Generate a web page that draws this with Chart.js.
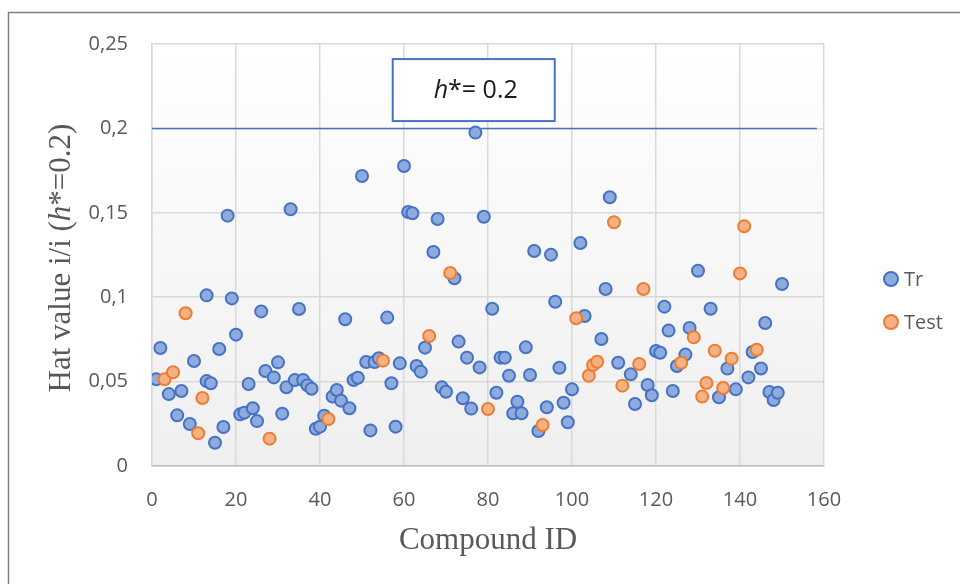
<!DOCTYPE html>
<html>
<head>
<meta charset="utf-8">
<script src="https://cdn.jsdelivr.net/npm/chart.js@4"></script>
<style>
  html, body { margin: 0; padding: 0; background: #fff; }
  #wrap { width: 960px; height: 584px; }
</style>
</head>
<body>
<div id="wrap"><canvas id="chart" width="960" height="584"></canvas></div>
<script>
// ── Data ───────────────────────────────────────────────
const trIds = [1, 2, 4, 6, 7, 9, 10, 13, 13, 14, 15, 16, 17, 18, 19, 20, 21, 22, 23, 24, 25, 26, 27, 29, 30,
  31, 32, 33, 34, 35, 36, 37, 38, 39, 40, 41, 43, 44, 45, 46, 47, 48, 49, 50, 51, 52, 53, 54, 56, 57, 58, 59, 60,
  61, 62, 63, 64, 65, 67, 68, 69, 70, 72, 73, 74, 75, 76, 77, 78, 79, 81, 82, 83, 84, 85, 86, 87, 88, 89, 90,
  91, 92, 94, 95, 96, 97, 98, 99, 100, 102, 103, 107, 108, 109, 111, 114, 115, 118, 119, 120, 121, 122, 123,
  124, 125, 127, 128, 130, 133, 135, 137, 139, 142, 143, 145, 146, 147, 148, 149, 150];
const trHat = [0.0514, 0.0699, 0.0426, 0.0300, 0.0444, 0.0249, 0.0622, 0.1011, 0.0503, 0.0490, 0.0138, 0.0693,
  0.0231, 0.1483, 0.0993, 0.0778, 0.0306, 0.0316, 0.0486, 0.0342, 0.0266, 0.0916, 0.0563, 0.0525, 0.0614,
  0.0310, 0.0466, 0.1521, 0.0509, 0.0930, 0.0509, 0.0478, 0.0458, 0.0221, 0.0233, 0.0298, 0.0411, 0.0450,
  0.0387, 0.0869, 0.0342, 0.0509, 0.0523, 0.1718, 0.0616, 0.0211, 0.0616, 0.0638, 0.0879, 0.0490, 0.0233,
  0.0608, 0.1777, 0.1505, 0.1497, 0.0592, 0.0559, 0.0701, 0.1268, 0.1463, 0.0466, 0.0440, 0.1112, 0.0737,
  0.0401, 0.0642, 0.0340, 0.1975, 0.0584, 0.1477, 0.0932, 0.0434, 0.0642, 0.0642, 0.0535, 0.0312, 0.0381,
  0.0312, 0.0703, 0.0539, 0.1274, 0.0207, 0.0348, 0.1252, 0.0973, 0.0582, 0.0375, 0.0259, 0.0454, 0.1321,
  0.0889, 0.0752, 0.1049, 0.1592, 0.0612, 0.0543, 0.0367, 0.0480, 0.0419, 0.0681, 0.0671, 0.0944, 0.0802,
  0.0444, 0.0592, 0.0660, 0.0818, 0.1157, 0.0932, 0.0407, 0.0577, 0.0454, 0.0525, 0.0675, 0.0578, 0.0847,
  0.0438, 0.0391, 0.0434, 0.1078];

const testIds = [3, 5, 8, 11, 12, 28, 42, 55, 66, 71, 80, 93, 101, 104, 105, 106, 110, 112, 116, 117, 126,
  129, 131, 132, 134, 136, 138, 140, 141, 144];
const testHat = [0.0514, 0.0555, 0.0905, 0.0194, 0.0403, 0.0162, 0.0278, 0.0624, 0.0770, 0.1143, 0.0338,
  0.0243, 0.0875, 0.0535, 0.0598, 0.0618, 0.1444, 0.0476, 0.0604, 0.1049, 0.0612, 0.0762, 0.0411, 0.0492,
  0.0683, 0.0462, 0.0636, 0.1141, 0.1420, 0.0689];

const hStar = 0.2;
const hStarLineX = [0, 158.3];
const yTickLabels = ['0', '0,05', '0,1', '0,15', '0,2', '0,25'];
const xTickLabels = ['0', '20', '40', '60', '80', '100', '120', '140', '160'];

// ── Styles ─────────────────────────────────────────────
const BLUE = '#4472C4', BLUE_FILL = '#8FAADC';
const ORANGE = '#ED7D31', ORANGE_FILL = '#F4B183';
const TXT = '#595959';
const SANS = '"Open Sans", "Liberation Sans", sans-serif';
const SERIF = '"Liberation Serif", "DejaVu Serif", serif';

const toPoints = (xs, ys) => xs.map((x, i) => ({ x, y: ys[i] }));

// draws a run of [text, italic] pieces starting at x, returns end x
function drawRuns(ctx, runs, x, y, size, family) {
  runs.forEach(([t, it]) => {
    ctx.font = `${it ? 'italic ' : ''}${size}px ${family}`;
    ctx.fillText(t, x, y);
    x += ctx.measureText(t).width;
  });
  return x;
}
function runsWidth(ctx, runs, size, family) {
  return runs.reduce((w, [t, it]) => {
    ctx.font = `${it ? 'italic ' : ''}${size}px ${family}`;
    return w + ctx.measureText(t).width;
  }, 0);
}

// ── Plugins ────────────────────────────────────────────
const backdrop = {
  id: 'backdrop',
  beforeDraw(chart) {
    const { ctx, chartArea: a } = chart;
    ctx.save();
    ctx.fillStyle = '#fff';
    ctx.fillRect(0, 0, chart.width, chart.height);
    const g = ctx.createLinearGradient(0, a.top, 0, a.bottom);
    g.addColorStop(0, '#ffffff');
    g.addColorStop(1, '#efefef');
    ctx.fillStyle = g;
    ctx.fillRect(a.left, a.top, a.right - a.left, a.bottom - a.top);
    ctx.strokeStyle = '#7f7f7f';
    ctx.lineWidth = 1.5;
    ctx.strokeRect(8.5, 12.5, 1000, 700);
    ctx.restore();
  }
};

const decorations = {
  id: 'decorations',
  afterDraw(chart) {
    const { ctx, chartArea: a, scales } = chart;
    ctx.save();

    // h* label box
    const cx = scales.x.getPixelForValue(76.6);
    const cy = scales.y.getPixelForValue(0.2227);
    const bw = 162, bh = 62;
    ctx.fillStyle = '#fff';
    ctx.fillRect(cx - bw / 2, cy - bh / 2, bw, bh);
    ctx.strokeStyle = BLUE;
    ctx.lineWidth = 2;
    ctx.strokeRect(cx - bw / 2, cy - bh / 2, bw, bh);
    const boxRuns = [['h', true], ['*= 0.2', false]];
    ctx.fillStyle = '#1a1a1a';
    ctx.textBaseline = 'middle';
    ctx.textAlign = 'left';
    const bwText = runsWidth(ctx, boxRuns, 25, SANS);
    drawRuns(ctx, boxRuns, cx - bwText / 2 + 2, cy + 1, 25, SANS);

    // axis titles
    ctx.fillStyle = TXT;
    const xt = 'Compound ID';
    ctx.font = `31px ${SERIF}`;
    ctx.textAlign = 'center';
    ctx.fillText(xt, (a.left + a.right) / 2, 541);

    ctx.textAlign = 'left';
    const yRuns = [['Hat value i/i (', false], ['h', true], ['*=0.2)', false]];
    const yw = runsWidth(ctx, yRuns, 31, SERIF);
    ctx.translate(62, (a.top + a.bottom) / 2 + 3);
    ctx.rotate(-Math.PI / 2);
    drawRuns(ctx, yRuns, -yw / 2, 0, 31, SERIF);
    ctx.setTransform(1, 0, 0, 1, 0, 0);

    // legend
    const items = [chart.data.datasets[1], chart.data.datasets[0]];
    items.forEach((ds, i) => {
      const ly = 279 + i * 43;
      ctx.beginPath();
      ctx.arc(891, ly, 7, 0, Math.PI * 2);
      ctx.fillStyle = ds.backgroundColor;
      ctx.fill();
      ctx.lineWidth = 2;
      ctx.strokeStyle = ds.borderColor;
      ctx.stroke();
      ctx.fillStyle = TXT;
      ctx.font = `20px ${SANS}`;
      ctx.textBaseline = 'middle';
      ctx.fillText(ds.label, 904, ly + 1);
    });
    ctx.restore();
  }
};

// ── Chart ──────────────────────────────────────────────
new Chart(document.getElementById('chart'), {
  type: 'scatter',
  data: {
    datasets: [
      {
        label: 'Test',
        data: toPoints(testIds, testHat),
        backgroundColor: ORANGE_FILL,
        borderColor: ORANGE,
        borderWidth: 2,
        pointRadius: 6,
        order: 0,
      },
      {
        label: 'Tr',
        data: toPoints(trIds, trHat),
        backgroundColor: BLUE_FILL,
        borderColor: BLUE,
        borderWidth: 2,
        pointRadius: 6,
        order: 1,
      },
      {
        label: 'h*',
        type: 'line',
        data: hStarLineX.map(x => ({ x, y: hStar })),
        borderColor: BLUE,
        borderWidth: 1.5,
        pointRadius: 0,
        fill: false,
        order: 2,
      },
    ],
  },
  options: {
    responsive: false,
    animation: false,
    events: [],
    layout: { padding: { left: 0, right: 136, top: 44, bottom: 0 } },
    plugins: {
      legend: { display: false },
      tooltip: { enabled: false },
    },
    scales: {
      x: {
        type: 'linear',
        min: 0, max: 160,
        afterFit: s => { s.height = 118; },
        ticks: {
          stepSize: 20,
          padding: 22,
          color: TXT,
          font: { family: SANS, size: 20 },
          callback: (v, i) => xTickLabels[i],
        },
        grid: { color: '#d9d9d9', lineWidth: 1.5, drawTicks: false },
        border: { color: '#bfbfbf', width: 1.5 },
      },
      y: {
        min: 0, max: 0.25,
        afterFit: s => { s.width = 152; },
        ticks: {
          stepSize: 0.05,
          padding: 24,
          color: TXT,
          font: { family: SANS, size: 20 },
          callback: (v, i) => yTickLabels[i],
        },
        grid: { color: '#d9d9d9', lineWidth: 1.5, drawTicks: false },
        border: { color: '#d9d9d9', width: 1.5 },
      },
    },
  },
  plugins: [backdrop, decorations],
});
</script>
</body>
</html>
